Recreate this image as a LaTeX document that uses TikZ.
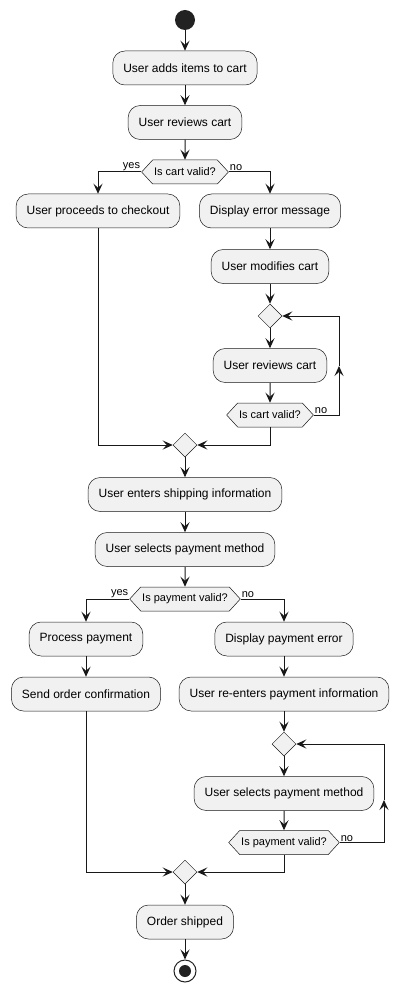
\documentclass[tikz,border=0pt]{standalone}
\usepackage{fontspec}
\setmainfont{Liberation Sans}
\usetikzlibrary{arrows.meta,shapes.geometric,shapes.symbols}
\definecolor{boxfill}{HTML}{F1F1F1}
\definecolor{boxline}{HTML}{181818}
\definecolor{dotc}{HTML}{222222}
\begin{document}
\begin{tikzpicture}[x=1pt,y=-1pt,
 act/.style={draw=boxline, line width=0.5pt, fill=boxfill, rounded corners=12pt, minimum height=34pt, inner xsep=10.5pt, font=\fontsize{12}{14}\selectfont},
 hex/.style={signal, signal to=east and west, signal pointer angle=95, draw=boxline, line width=0.5pt, fill=boxfill, minimum height=24pt, inner xsep=1.5pt, inner ysep=0pt, font=\fontsize{11}{13}\selectfont},
 merge/.style={diamond, draw=boxline, line width=0.5pt, fill=boxfill, minimum width=24pt, minimum height=24pt, inner sep=0pt},
 flow/.style={draw=boxline, line width=1pt, -{Stealth[length=10pt,width=9pt,inset=4pt]}},
 lbl/.style={font=\fontsize{11}{13}\selectfont, inner sep=1pt},
]
\useasboundingbox (0,0) rectangle (409,992);
% nodes
\node[circle, fill=dotc, minimum size=20pt, inner sep=0pt] (start) at (185,20) {};
\node[act] (a1) at (185,68) {User adds items to cart};
\node[act] (a2) at (185,122.5) {User reviews cart};
\node[hex] (d1) at (185,172) {Is cart valid?};
\node[act] (a3) at (98,211) {User proceeds to checkout};
\node[act] (a4) at (270,211) {Display error message};
\node[act] (a5) at (270,266.5) {User modifies cart};
\node[merge] (m1) at (270,316) {};
\node[act] (a6) at (270,365.5) {User reviews cart};
\node[hex] (d2) at (270,415) {Is cart valid?};
\node[merge] (m2) at (185,445) {};
\node[act] (a7) at (185,494.5) {User enters shipping information};
\node[act] (a8) at (185,549.5) {User selects payment method};
\node[hex] (d3) at (185,599) {Is payment valid?};
\node[act] (a9) at (86,639) {Process payment};
\node[act] (a10) at (86,694) {Send order confirmation};
\node[act] (a11) at (284,639) {Display payment error};
\node[act] (a12) at (284,694) {User re-enters payment information};
\node[merge] (m3) at (284,744) {};
\node[act] (a13) at (284,793.5) {User selects payment method};
\node[hex] (d4) at (284,842.5) {Is payment valid?};
\node[merge] (m4) at (185,872) {};
\node[act] (a14) at (185,922) {Order shipped};
\node[circle, draw=dotc, line width=1pt, fill=white, minimum size=22pt, inner sep=0pt] (end) at (185,971) {};
\node[circle, fill=dotc, minimum size=12pt, inner sep=0pt] (endin) at (end) {};
% labels
\node[lbl, anchor=south east] (y1) at (d1.west) {yes};
\node[lbl, anchor=south west] (n1) at (d1.east) {no};
\node[lbl, anchor=south west] (n2) at (d2.east) {no};
\node[lbl, anchor=south east] (y3) at (d3.west) {yes};
\node[lbl, anchor=south west] (n3) at (d3.east) {no};
\node[lbl, anchor=south west] (n4) at (d4.east) {no};
% loop coordinates
\coordinate (l1) at (339,366);
\coordinate (l2) at (384,800);
% connectors
\draw[flow] (start) -- (a1);
\draw[flow] (a1) -- (a2);
\draw[flow] (a2) -- (d1);
\draw[flow] (d1.west) -| (a3.north);
\draw[flow] (d1.east) -| (a4.north);
\draw[flow] (a4) -- (a5);
\draw[flow] (a5) -- (m1);
\draw[flow] (m1) -- (a6);
\draw[flow] (a6) -- (d2);
\draw[flow] (d2.east) -| (l1);
\draw[flow] (l1) |- (m1.east);
\draw[flow] (d2.south) |- (m2.east);
\draw[flow] (a3.south) |- (m2.west);
\draw[flow] (m2) -- (a7);
\draw[flow] (a7) -- (a8);
\draw[flow] (a8) -- (d3);
\draw[flow] (d3.west) -| (a9.north);
\draw[flow] (d3.east) -| (a11.north);
\draw[flow] (a9) -- (a10);
\draw[flow] (a11) -- (a12);
\draw[flow] (a12) -- (m3);
\draw[flow] (m3) -- (a13);
\draw[flow] (a13) -- (d4);
\draw[flow] (d4.east) -| (l2);
\draw[flow] (l2) |- (m3.east);
\draw[flow] (d4.south) |- (m4.east);
\draw[flow] (a10.south) |- (m4.west);
\draw[flow] (m4) -- (a14);
\draw[flow] (a14) -- (end);
\end{tikzpicture}
\end{document}
